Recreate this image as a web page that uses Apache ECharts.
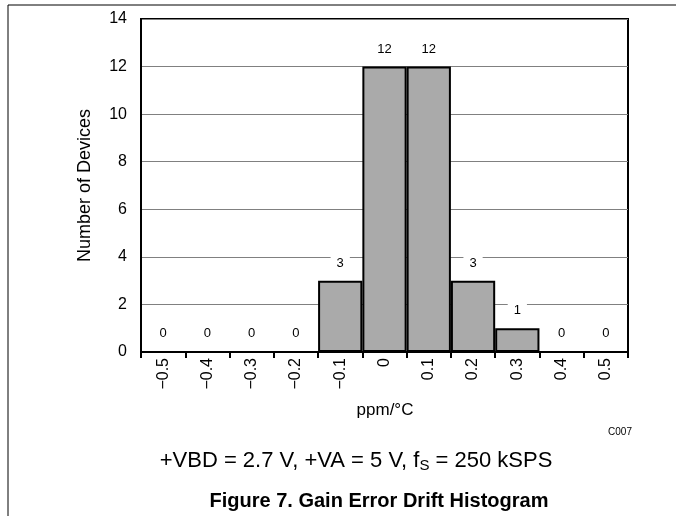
<!DOCTYPE html>
<html><head><meta charset="utf-8">
<script src="https://cdn.jsdelivr.net/npm/echarts@6/dist/echarts.min.js"></script>
<style>html,body{margin:0;padding:0;background:#fff}#c{width:676px;height:516px}</style>
</head><body><div id="c"></div>
<script>
var categories = ['\u22120.5','\u22120.4','\u22120.3','\u22120.2','\u22120.1','0','0.1','0.2','0.3','0.4','0.5'];
var counts = [0,0,0,0,3,12,12,3,1,0,0];
var yTicks = {min:0, max:14, interval:2};

var chart = echarts.init(document.getElementById('c'), null, {renderer:'canvas'});
var F = 'Liberation Sans, Arial, sans-serif';
chart.setOption({
  animation:false,
  backgroundColor:'#fff',
  grid:{left:141, top:19, right:48, bottom:164, show:true, borderColor:'#000', borderWidth:2, backgroundColor:'transparent'},
  xAxis:{type:'category', data:categories, boundaryGap:true,
    axisLine:{lineStyle:{color:'#000', width:2}},
    axisTick:{show:true, alignWithLabel:false, length:6, lineStyle:{color:'#000', width:2}},
    axisLabel:{rotate:90, fontSize:16, fontFamily:F, color:'#000', margin:6, interval:0}
  },
  yAxis:{type:'value', min:yTicks.min, max:yTicks.max, interval:yTicks.interval,
    name:'Number of Devices', nameLocation:'middle', nameGap:47, nameRotate:90,
    nameTextStyle:{fontSize:18, fontFamily:F, color:'#000'},
    axisLine:{show:true, lineStyle:{color:'#000', width:2}},
    axisTick:{show:false},
    axisLabel:{fontSize:16, fontFamily:F, color:'#000', margin:14},
    splitLine:{lineStyle:{color:'#808080', width:1}}
  },
  series:[{type:'bar', data:counts, barWidth:'100%', barGap:'0%',
    itemStyle:{color:'#aaaaaa', borderColor:'#000', borderWidth:2},
    label:{show:true, position:'top', distance:9, fontSize:13, fontFamily:F, color:'#000',
      backgroundColor:'#fff', padding:[2,6]}
  }],
  graphic:[
    {type:'line', shape:{x1:8,y1:5,x2:8,y2:516}, style:{stroke:'#000', lineWidth:1}},
    {type:'line', shape:{x1:8,y1:5,x2:676,y2:5}, style:{stroke:'#000', lineWidth:1}},
    {type:'text', x:385, y:410, style:{text:'ppm/\u00b0C', font:'17px '+F, fill:'#000', textAlign:'center', textVerticalAlign:'middle'}},
    {type:'text', x:620, y:432, style:{text:'C007', font:'10px '+F, fill:'#000', textAlign:'center', textVerticalAlign:'middle'}},
    {type:'text', x:356, y:461, style:{text:'{a|+VBD = 2.7 V, +VA = 5 V, f}{s|S}{a| = 250 kSPS}', textAlign:'center', textVerticalAlign:'middle',
      rich:{a:{fontSize:22, fontFamily:F, color:'#000'}, s:{fontSize:15, fontFamily:F, color:'#000', padding:[9,0,0,0]}}}},
    {type:'text', x:379, y:501, style:{text:'Figure 7. Gain Error Drift Histogram', font:'bold 20px '+F, fill:'#000', textAlign:'center', textVerticalAlign:'middle'}}
  ]
});
</script></body></html>
